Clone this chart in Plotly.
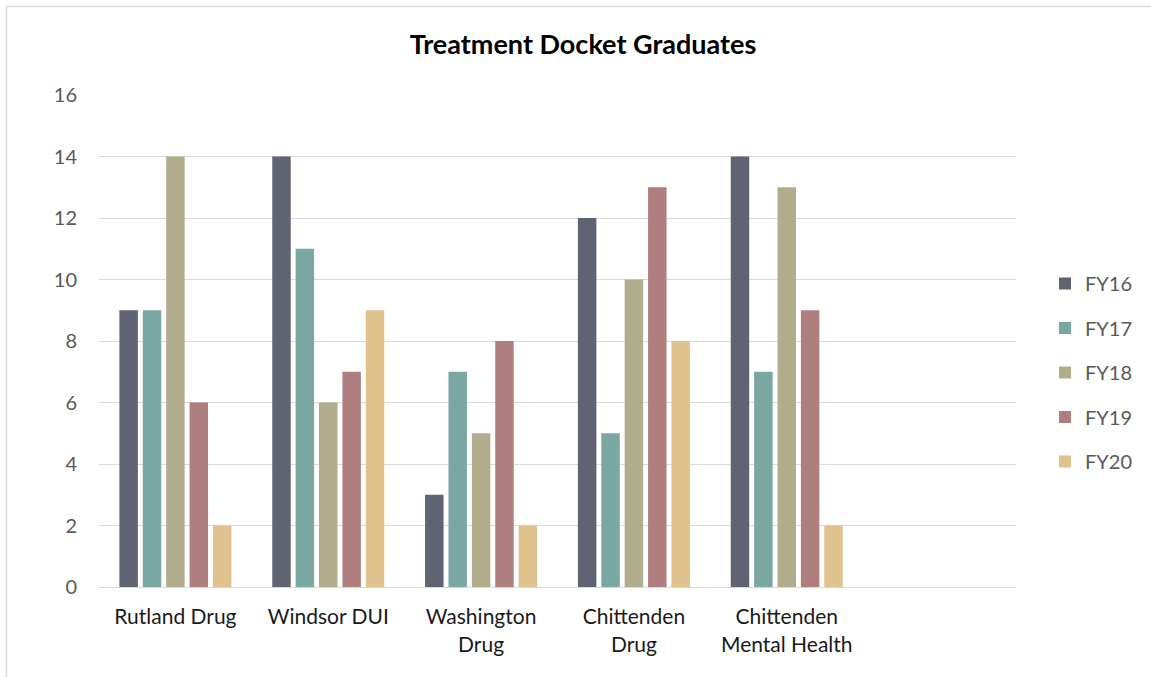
import plotly.graph_objects as go

# Treatment docket graduates by program and fiscal year
programs = [
    "Rutland Drug",
    "Windsor DUI",
    "Washington<br>Drug",
    "Chittenden<br>Drug",
    "Chittenden<br>Mental Health",
]
fy16 = [9, 14, 3, 12, 14]
fy17 = [9, 11, 7, 5, 7]
fy18 = [14, 6, 5, 10, 13]
fy19 = [6, 7, 8, 13, 9]
fy20 = [2, 9, 2, 8, 2]

series_names = ["FY16", "FY17", "FY18", "FY19", "FY20"]
series_values = [fy16, fy17, fy18, fy19, fy20]
series_colors = ["#5f6372", "#7aa7a2", "#b1ad8c", "#af7f7f", "#dfc28d"]

y_ticks = [0, 2, 4, 6, 8, 10, 12, 14, 16]

FONT = "Lato, 'Open Sans', sans-serif"

W, H = 1151, 677
L, R, T, B = 99, 1016, 95, 587  # plot area in pixels

fig = go.Figure()
for i, (name, vals, col) in enumerate(zip(series_names, series_values, series_colors)):
    fig.add_trace(go.Bar(
        x=programs, y=vals, name=name,
        marker=dict(color=col, line=dict(width=0)),
        legendgroup=f"g{i}",
    ))

def px_x(p):
    return (p - L) / (R - L)

def px_y(p):
    return (B - p) / (B - T)

fig.update_layout(
    width=W, height=H,
    margin=dict(l=L, r=W - R, t=T, b=H - B),
    paper_bgcolor="white", plot_bgcolor="white",
    barmode="group", bargap=0.235, bargroupgap=0.21,
    font=dict(family=FONT, color="#595959", size=19),
    title=dict(
        text="<b>Treatment Docket Graduates</b>",
        x=583 / W, xref="container", xanchor="center",
        y=1 - 45 / H, yref="container", yanchor="middle",
        font=dict(family=FONT, size=27, color="#000000"),
    ),
    xaxis=dict(
        range=[-0.5, 5.5],
        showgrid=False, showline=True, linecolor="#d9d9d9", linewidth=1,
        ticks="", tickfont=dict(family=FONT, size=21, color="#1a1a1a"),
        ticklabelstandoff=11,
    ),
    yaxis=dict(
        range=[0, 16], tickvals=y_ticks,
        showgrid=True, gridcolor="#d9d9d9", gridwidth=1,
        zeroline=False, showline=False, ticks="",
        tickfont=dict(family=FONT, size=20, color="#595959"),
        ticklabelstandoff=21,
    ),
    legend=dict(
        x=px_x(1045), xanchor="left", y=px_y(264), yanchor="top",
        tracegroupgap=15.5, font=dict(family=FONT, size=20, color="#595959"),
        itemsizing="constant", bgcolor="rgba(0,0,0,0)",
    ),
    shapes=[dict(
        type="rect", xref="paper", yref="paper",
        x0=px_x(6.5), x1=px_x(1170), y0=px_y(700), y1=px_y(6.5),
        line=dict(color="#d9d9d9", width=1.5), fillcolor="rgba(0,0,0,0)",
        layer="below",
    )],
)

fig.write_html("out.html")
